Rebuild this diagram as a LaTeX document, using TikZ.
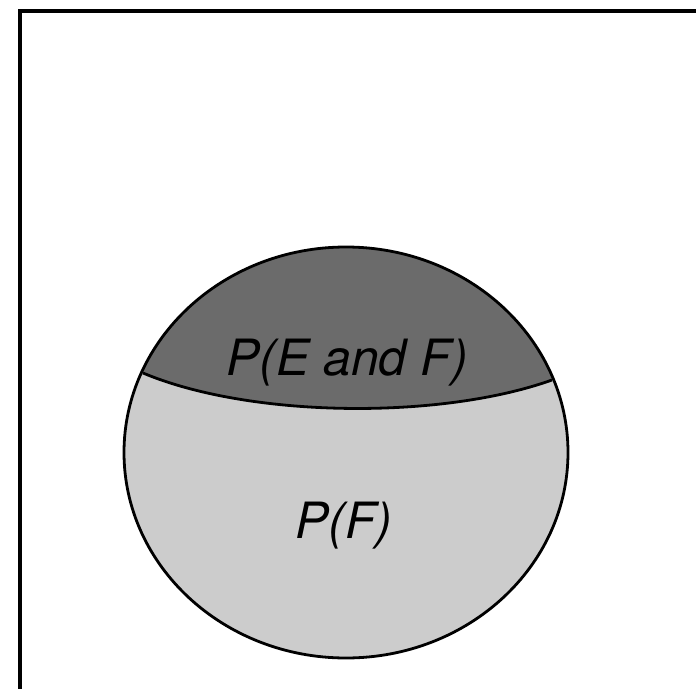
\documentclass[tikz,border=0pt]{standalone}
\usepackage{fontspec}
\setmainfont{TeX Gyre Heros}
\begin{document}
\begin{tikzpicture}[x=1pt,y=-1pt,
  frameline/.style={line width=4pt,line cap=rect},
  outline/.style={line width=2.8pt},
  lbl/.style={font=\fontsize{50}{50}\selectfont\itshape,anchor=base,inner sep=0pt}]
\useasboundingbox (0,0) rectangle (696,688);
\fill[white] (0,0) rectangle (696,688);
% frame (only left and top edges visible)
\coordinate (fl) at (19.5,700);
\coordinate (ftl) at (19.5,11);
\coordinate (ftr) at (700,11);
\draw[frameline] (fl) -- (ftl) -- (ftr);
% circle
\coordinate (c) at (346,452.5);
\coordinate (chl) at (143,373);
\coordinate (chr) at (552,380);
\fill[black!20] (c) ellipse [x radius=222, y radius=205.5];
\begin{scope}
  \clip (c) ellipse [x radius=222, y radius=205.5];
  \fill[black!58] (chl) .. controls (250,418) and (440,420) .. (chr) -- (600,380) -- (600,200) -- (100,200) -- (100,373) -- cycle;
\end{scope}
\draw[outline] (chl) .. controls (250,418) and (440,420) .. (chr);
\draw[outline] (c) ellipse [x radius=222, y radius=205.5];
\node[lbl] (pef) at (347,375) {P(E and F)};
\node[lbl] (pf) at (344,538) {P(F)};
\end{tikzpicture}
\end{document}
